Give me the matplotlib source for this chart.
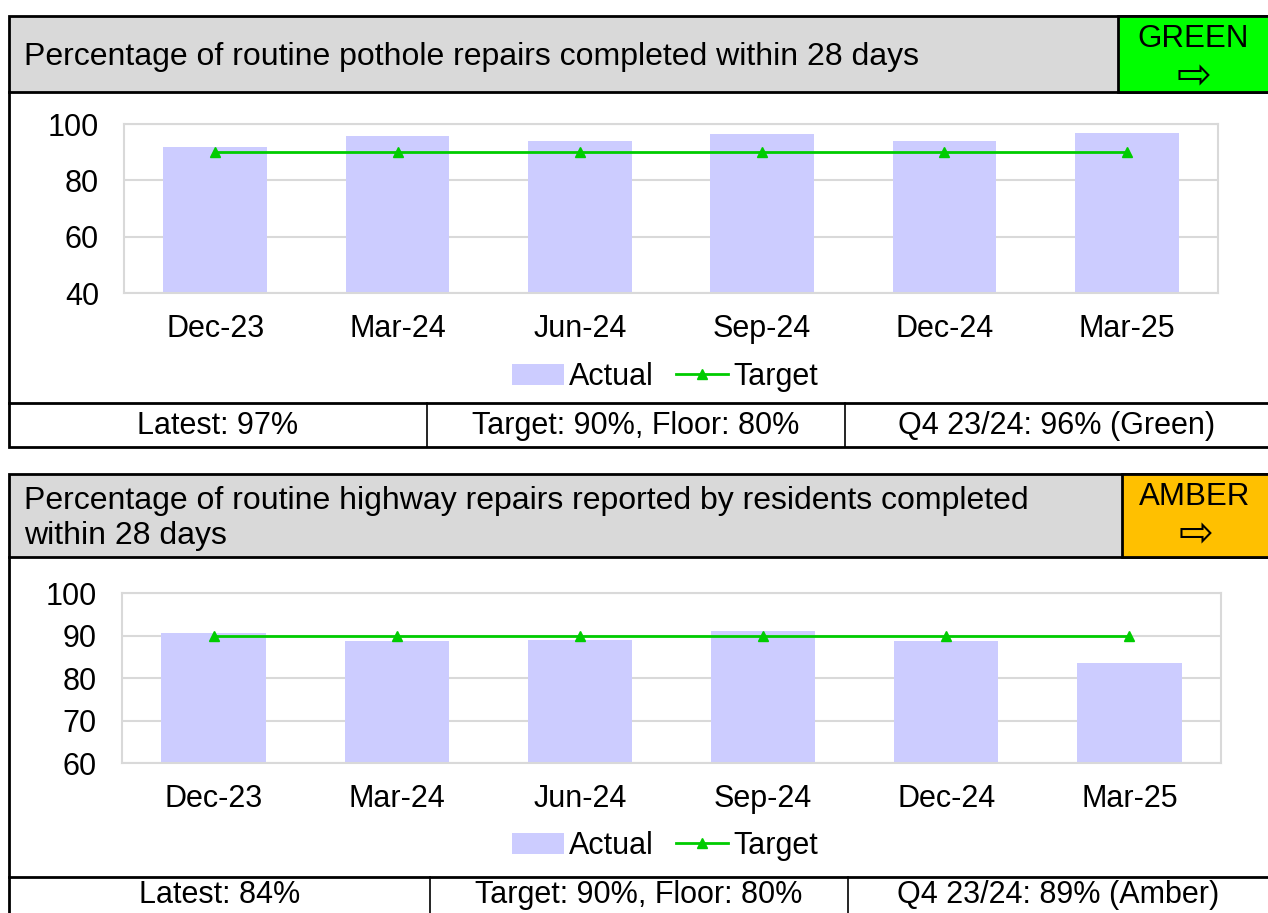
import matplotlib.pyplot as plt
from matplotlib.patches import Rectangle

W, H = 1268, 913

months = ["Dec-23", "Mar-24", "Jun-24", "Sep-24", "Dec-24", "Mar-25"]
actual_pothole = [91.7, 95.9, 94.1, 96.3, 94.1, 96.8]
target_pothole = [90, 90, 90, 90, 90, 90]
actual_highway = [90.5, 88.7, 89.0, 91.1, 88.7, 83.5]
target_highway = [90, 90, 90, 90, 90, 90]

titles = ["Percentage of routine pothole repairs completed within 28 days",
          "Percentage of routine highway repairs reported by residents completed\nwithin 28 days"]
statuses = ["GREEN", "AMBER"]
footers = [["Latest: 97%", "Target: 90%, Floor: 80%", "Q4 23/24: 96% (Green)"],
           ["Latest: 84%", "Target: 90%, Floor: 80%", "Q4 23/24: 89% (Amber)"]]

plt.rcParams['font.family'] = ['Liberation Sans', 'DejaVu Sans']

fig = plt.figure(figsize=(W / 100, H / 100), dpi=100)
bg = fig.add_axes([0, 0, 1, 1])
bg.set_xlim(0, W)
bg.set_ylim(H, 0)
bg.axis('off')


def px_axes(x0, y0, x1, y1):
    return fig.add_axes([x0 / W, 1 - y1 / H, (x1 - x0) / W, (y1 - y0) / H])


def panel(top, title_bot, foot_top, foot_bot, status_x, cells, title, status,
          status_col, foot_texts, foot_off):
    left, right = 9, 1272
    # title bar
    bg.add_patch(Rectangle((left, top), right - left, title_bot - top,
                           facecolor='#D9D9D9', edgecolor='black', lw=2))
    bg.add_patch(Rectangle((status_x, top), right - status_x, title_bot - top,
                           facecolor=status_col, edgecolor='black', lw=2))
    bg.text(24, (top + title_bot) / 2 + 3, title, fontsize=23, va='center',
            ha='left', linespacing=1.25)
    bg.text((status_x + 1268) / 2, top + 23, status, fontsize=22.5,
            ha='center', va='center')
    bg.text((status_x + 1268) / 2 + 1, top + 60, "\u21e8", fontsize=30,
            ha='center', va='center', family='DejaVu Sans')
    # chart area left border
    bg.plot([left, left], [title_bot, foot_top], color='black', lw=2)
    # footer
    bg.add_patch(Rectangle((left, foot_top), right - left, foot_bot - foot_top,
                           facecolor='white', edgecolor='black', lw=2))
    edges = [left] + cells + [1268]
    for c in cells:
        bg.plot([c, c], [foot_top, foot_bot], color='black', lw=1.2)
    for i, t in enumerate(foot_texts):
        bg.text((edges[i] + edges[i + 1]) / 2, foot_top + foot_off, t,
                fontsize=22, ha='center', va='center')


def chart(box, actual, target, ylim, yticks, legend_y):
    ax = px_axes(*box)
    x = range(len(months))
    bars = ax.bar(x, actual, width=0.57, color='#CCCCFF', zorder=2)
    line, = ax.plot(x, target, color='#00CC00', lw=2, marker='^',
                    markersize=7, zorder=3)
    ax.set_xlim(-0.5, len(months) - 0.5)
    ax.set_ylim(*ylim)
    ax.set_yticks(yticks)
    ax.set_xticks(list(x))
    ax.set_xticklabels(months)
    ax.grid(axis='y', color='#D9D9D9', lw=1.5, zorder=0)
    for s in ax.spines.values():
        s.set_color('#D9D9D9')
        s.set_linewidth(1.5)
    ax.tick_params(length=0, labelsize=22)
    ax.tick_params(axis='y', pad=18)
    ax.tick_params(axis='x', pad=15)
    ax.legend([bars, line], ['Actual', 'Target'], loc='center',
              bbox_to_anchor=(665 / W, 1 - (legend_y + 2) / H),
              bbox_transform=fig.transFigure, ncol=2, frameon=False,
              fontsize=22, handlelength=1.7, handletextpad=0.15,
              columnspacing=0.75)
    return ax


panel(16, 92, 403, 447, 1118, [427, 845], titles[0], statuses[0], '#00FF00',
      footers[0], 23)
panel(474, 557, 877, 925, 1122, [430, 848], titles[1], statuses[1], '#FFC000',
      footers[1], 18)

chart((124, 124, 1218, 293), actual_pothole, target_pothole, (40, 100),
      [40, 60, 80, 100], 375)
chart((122, 593, 1221, 763), actual_highway, target_highway, (60, 100),
      [60, 70, 80, 90, 100], 844)

fig.savefig('out.png', dpi=100)
